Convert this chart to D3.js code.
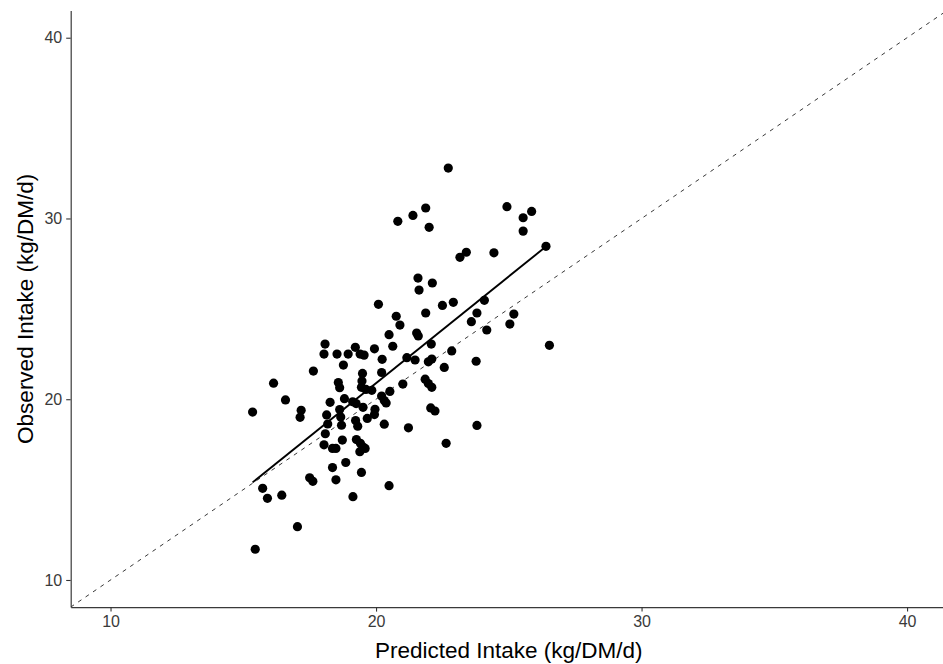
<!DOCTYPE html>
<html>
<head>
<meta charset="utf-8">
<script src="https://cdn.jsdelivr.net/npm/d3@7"></script>
<style>
  body { margin: 0; background: #fff; }
  svg { display: block; font-family: "Liberation Sans", Arial, sans-serif; }
</style>
</head>
<body>
<div id="chart"></div>
<script>
const WIDTH = 943
const HEIGHT = 664

// predicted vs observed intake
const predicted = [22.72, 20.82, 21.39, 21.87, 22.00, 24.93, 25.54, 25.86, 25.54, 26.40,
  23.16, 23.40, 24.44, 21.58, 22.12, 21.62, 20.09, 22.50, 22.91, 24.08,
  21.87, 23.80, 20.76, 20.90, 23.59, 25.19, 25.04, 24.17, 21.53, 21.59,
  20.49, 18.08, 19.22, 19.94, 20.63, 22.08, 26.53, 22.85, 18.04, 18.53,
  18.95, 19.40, 19.55, 20.23, 21.16, 21.47, 21.97, 22.10, 22.57, 23.77,
  18.77, 17.64, 19.49, 20.21, 16.14, 18.58, 18.63, 19.47, 19.45, 19.62,
  19.84, 20.52, 21.01, 21.85, 21.97, 22.10, 20.21, 20.31, 20.38, 16.59,
  18.27, 18.81, 19.12, 19.25, 19.51, 19.96, 19.94, 22.06, 22.22, 15.35,
  17.18, 17.14, 18.14, 18.18, 18.63, 18.67, 18.70, 19.23, 19.31, 19.67,
  20.31, 21.22, 23.80, 18.09, 18.04, 18.73, 18.36, 18.49, 19.26, 19.41,
  19.51, 19.59, 19.39, 22.64, 18.36, 18.86, 19.45, 17.50, 17.62, 18.49,
  20.49, 15.73, 15.91, 16.45, 19.13, 17.04, 15.45]

const observed = [32.79, 29.84, 30.17, 30.58, 29.51, 30.65, 30.04, 30.39, 29.30, 28.46,
  27.85, 28.13, 28.10, 26.70, 26.43, 26.04, 25.25, 25.19, 25.36, 25.47,
  24.77, 24.77, 24.59, 24.10, 24.29, 24.71, 24.16, 23.83, 23.66, 23.50,
  23.57, 23.05, 22.87, 22.79, 22.93, 23.05, 22.98, 22.67, 22.50, 22.50,
  22.50, 22.50, 22.44, 22.21, 22.30, 22.17, 22.07, 22.22, 21.76, 22.10,
  21.89, 21.56, 21.43, 21.48, 20.89, 20.92, 20.64, 21.01, 20.66, 20.54,
  20.49, 20.43, 20.84, 21.11, 20.87, 20.66, 20.18, 19.93, 19.79, 19.96,
  19.83, 20.03, 19.86, 19.76, 19.55, 19.44, 19.15, 19.52, 19.35, 19.29,
  19.39, 19.00, 19.13, 18.63, 19.43, 19.02, 18.56, 18.82, 18.51, 18.94,
  18.62, 18.42, 18.55, 18.09, 17.48, 17.74, 17.28, 17.28, 17.77, 17.56,
  17.36, 17.28, 17.10, 17.56, 16.22, 16.50, 15.95, 15.65, 15.46, 15.54,
  15.22, 15.07, 14.52, 14.69, 14.61, 12.95, 11.70]

// fitted line end points and the 1:1 reference line
const fitX = [15.35, 26.53]
const fitY = [15.40, 28.60]
const refLine = [8.5, 41.5]

const ticks = [10, 20, 30, 40]
const xTitle = "Predicted Intake (kg/DM/d)"
const yTitle = "Observed Intake (kg/DM/d)"

const margin = {left: 70.7, top: 10.6, right: -3.9, bottom: 56.9}
const plotW = WIDTH - margin.left - margin.right
const plotH = HEIGHT - margin.top - margin.bottom

var svg = d3.select("#chart").append("svg")
    .attr("width", WIDTH)
    .attr("height", HEIGHT)

var xScale = d3.scaleLinear().domain([8.5, 41.5]).range([margin.left, margin.left + plotW])
var yScale = d3.scaleLinear().domain([8.5, 41.5]).range([margin.top + plotH, margin.top])

svg.append("clipPath").attr("id", "panel")
  .append("rect")
    .attr("x", margin.left).attr("y", margin.top)
    .attr("width", plotW).attr("height", plotH)

var panel = svg.append("g").attr("clip-path", "url(#panel)")

// 1:1 line
panel.append("line")
    .attr("x1", xScale(refLine[0])).attr("y1", yScale(refLine[0]))
    .attr("x2", xScale(refLine[1])).attr("y2", yScale(refLine[1]))
    .attr("stroke", "#222")
    .attr("stroke-width", 0.9)
    .attr("stroke-dasharray", "4,5")

// points
panel.selectAll("circle")
    .data(predicted)
    .enter()
    .append("circle")
      .attr("cx", d => xScale(d))
      .attr("cy", (d, i) => yScale(observed[i]))
      .attr("r", 4.6)
      .attr("fill", "#000")

// regression line
var line = d3.line()
    .x((d, i) => xScale(fitX[i]))
    .y(d => yScale(d))
panel.append("path")
    .datum(fitY)
    .attr("fill", "none")
    .attr("stroke", "#000")
    .attr("stroke-width", 1.9)
    .attr("d", line)

// axes
var xAxis = svg.append("g")
    .attr("transform", `translate(0,${margin.top + plotH})`)
    .call(d3.axisBottom(xScale).tickValues(ticks).tickSize(4.5).tickPadding(4).tickSizeOuter(0))
var yAxis = svg.append("g")
    .attr("transform", `translate(${margin.left},0)`)
    .call(d3.axisLeft(yScale).tickValues(ticks).tickSize(4.5).tickPadding(4).tickSizeOuter(0))

;[xAxis, yAxis].forEach(ax => {
  ax.select(".domain").attr("stroke", "#3a3a3a").attr("stroke-width", 1.2)
  ax.selectAll(".tick line").attr("stroke", "#333").attr("stroke-width", 1.1)
  ax.selectAll(".tick text")
    .attr("fill", "#3a3a3a")
    .attr("font-size", "16px")
    .attr("font-family", "Liberation Sans, Arial, sans-serif")
})

svg.append("text")
    .attr("x", margin.left + (946.9 - margin.left) / 2)
    .attr("y", 658)
    .attr("text-anchor", "middle")
    .attr("font-size", "22.5px")
    .attr("fill", "#000")
    .text(xTitle)

svg.append("text")
    .attr("transform", `translate(33,${margin.top + plotH / 2}) rotate(-90)`)
    .attr("text-anchor", "middle")
    .attr("font-size", "22.5px")
    .attr("fill", "#000")
    .text(yTitle)
</script>
</body>
</html>
